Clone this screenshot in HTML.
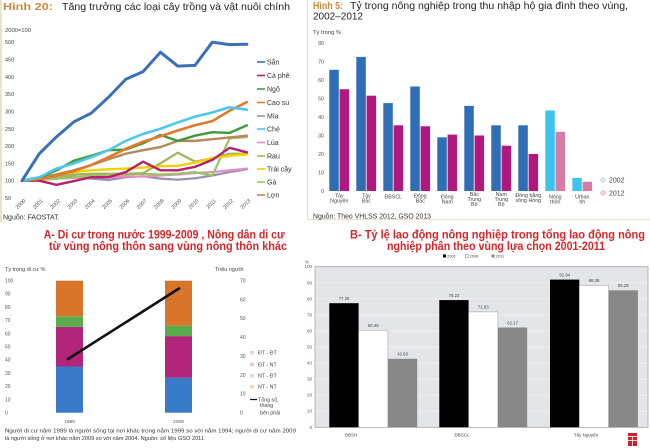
<!DOCTYPE html>
<html><head><meta charset="utf-8"><style>
html,body{margin:0;padding:0;background:#fff;}
svg{display:block;font-family:"Liberation Sans","Noto Sans CJK SC",sans-serif;}
</style></head><body>
<svg width="650" height="448" viewBox="0 0 650 448" xmlns="http://www.w3.org/2000/svg">
<rect width="650" height="448" fill="#fff"/>
<!-- borders -->
<line x1="1" y1="0" x2="1" y2="222" stroke="#ece2cc" stroke-width="2"/>
<line x1="307.5" y1="0" x2="307.5" y2="219.5" stroke="#ece2cc" stroke-width="1.2"/>
<line x1="307" y1="219.5" x2="650" y2="219.5" stroke="#ece2cc" stroke-width="1.2"/>

<!-- ===== Chart 1 ===== -->
<text x="3" y="10" font-size="10.5" font-weight="bold" fill="#c98a3c" textLength="50" lengthAdjust="spacingAndGlyphs">Hình 20:</text>
<text x="62" y="10" font-size="10.5" fill="#222" textLength="228" lengthAdjust="spacingAndGlyphs">Tăng trưởng các loại cây trồng và vật nuôi chính</text>
<text x="5" y="32" font-size="5.8" fill="#444">2000=100</text>
<g font-size="5.5" fill="#444">
<text x="5" y="44.2">500</text><text x="5" y="61.5">450</text><text x="5" y="78.8">400</text><text x="5" y="96.1">350</text><text x="5" y="113.4">300</text><text x="5" y="130.8">250</text><text x="5" y="148.1">200</text><text x="5" y="165.4">150</text><text x="5" y="182.7">100</text><text x="5" y="200">50</text>
</g>
<g font-size="5.3" fill="#555" text-anchor="end">
<text transform="translate(26,201) rotate(-45)">2000</text>
<text transform="translate(43.3,201) rotate(-45)">2001</text>
<text transform="translate(60.6,201) rotate(-45)">2002</text>
<text transform="translate(77.9,201) rotate(-45)">2003</text>
<text transform="translate(95.2,201) rotate(-45)">2004</text>
<text transform="translate(112.5,201) rotate(-45)">2005</text>
<text transform="translate(129.8,201) rotate(-45)">2006</text>
<text transform="translate(147.1,201) rotate(-45)">2007</text>
<text transform="translate(164.4,201) rotate(-45)">2008</text>
<text transform="translate(181.7,201) rotate(-45)">2009</text>
<text transform="translate(199,201) rotate(-45)">2010</text>
<text transform="translate(216.3,201) rotate(-45)">2011</text>
<text transform="translate(233.6,201) rotate(-45)">2012</text>
<text transform="translate(250.9,201) rotate(-45)">2013</text>
</g>
<g transform="translate(22,180.7) scale(17.3,-0.3463) translate(0,-100)" fill="none" stroke-linejoin="round" stroke-linecap="round">
<polyline vector-effect="non-scaling-stroke" stroke="#9b8fb0" stroke-width="2.2" points="0,100 1,103 2,108 3,112 4,106 5,102 6,110 7,113 8,106 9,103 10,107 11,115 12,125 13,133"/>
<polyline vector-effect="non-scaling-stroke" stroke="#e58cc4" stroke-width="2.2" points="0,100 1,103 2,106 3,108 4,110 5,110 6,112 7,112 8,115 9,118 10,122 11,125 12,130 13,135"/>
<polyline vector-effect="non-scaling-stroke" stroke="#98c463" stroke-width="2.2" points="0,100 1,102 2,106 3,110 4,115 5,117 6,118 7,120 8,118 9,120 10,125 11,115 12,222 13,226"/>
<polyline vector-effect="non-scaling-stroke" stroke="#a5b35a" stroke-width="2.2" points="0,100 1,105 2,112 3,118 4,120 5,120 6,120 7,122 8,150 9,181 10,155 11,165 12,178 13,178"/>
<polyline vector-effect="non-scaling-stroke" stroke="#f2d100" stroke-width="2.4" points="0,100 1,108 2,118 3,125 4,130 5,133 6,135 7,138 8,142 9,143 10,152 11,165 12,172 13,176"/>
<polyline vector-effect="non-scaling-stroke" stroke="#b5216e" stroke-width="2.4" points="0,100 1,100 2,88 3,99 4,110 5,110 6,125 7,155 8,130 9,130 10,140 11,160 12,195 13,182"/>
<polyline vector-effect="non-scaling-stroke" stroke="#b5895a" stroke-width="2.4" points="0,100 1,107 2,118 3,130 4,145 5,162 6,178 7,188 8,197 9,215 10,215 11,220 12,225 13,230"/>
<polyline vector-effect="non-scaling-stroke" stroke="#3e9b3c" stroke-width="2.4" points="0,100 1,108 2,130 3,158 4,172 5,188 6,190 7,208 8,232 9,215 10,230 11,240 12,238 13,260"/>
<polyline vector-effect="non-scaling-stroke" stroke="#e07a2c" stroke-width="2.6" points="0,100 1,105 2,115 3,128 4,145 5,168 6,192 7,213 8,228 9,245 10,260 11,272 12,302 13,327"/>
<polyline vector-effect="non-scaling-stroke" stroke="#4fc7ea" stroke-width="2.6" points="0,100 1,110 2,135 3,150 4,168 5,188 6,215 7,235 8,250 9,268 10,285 11,297 12,312 13,305"/>
<polyline vector-effect="non-scaling-stroke" stroke="#3b6fb6" stroke-width="3" points="0,100 1,178 2,227 3,270 4,295 5,341 6,393 7,415 8,471 9,431 10,433 11,500 12,493 13,494"/>
</g>
<g stroke-width="1.6">
<line x1="257" y1="62" x2="265" y2="62" stroke="#3b6fb6"/>
<line x1="257" y1="75.5" x2="265" y2="75.5" stroke="#b5216e"/>
<line x1="257" y1="89" x2="265" y2="89" stroke="#3e9b3c"/>
<line x1="257" y1="102.5" x2="265" y2="102.5" stroke="#e07a2c"/>
<line x1="257" y1="116" x2="265" y2="116" stroke="#9b8fb0"/>
<line x1="257" y1="129" x2="265" y2="129" stroke="#4fc7ea"/>
<line x1="257" y1="142.5" x2="265" y2="142.5" stroke="#e58cc4"/>
<line x1="257" y1="156" x2="265" y2="156" stroke="#a5b35a"/>
<line x1="257" y1="169" x2="265" y2="169" stroke="#f2d100"/>
<line x1="257" y1="182" x2="265" y2="182" stroke="#98c463"/>
<line x1="257" y1="195" x2="265" y2="195" stroke="#b5895a"/>
</g>
<g font-size="7" fill="#333">
<text x="267" y="64.5">Sắn</text><text x="267" y="78">Cà phê</text><text x="267" y="91.5">Ngô</text><text x="267" y="105">Cao su</text><text x="267" y="118.5">Mía</text><text x="267" y="131.5">Chè</text><text x="267" y="145">Lúa</text><text x="267" y="158.5">Rau</text><text x="267" y="171.5">Trái cây</text><text x="267" y="184.5">Gà</text><text x="267" y="197.5">Lợn</text>
</g>
<text x="3" y="219.5" font-size="7" fill="#333">Nguồn: FAOSTAT.</text>

<!-- ===== Chart 2 ===== -->
<text x="313" y="9" font-size="10" font-weight="bold" fill="#c98a3c" textLength="30" lengthAdjust="spacingAndGlyphs">Hình 5:</text>
<text x="350" y="9" font-size="10" fill="#222" textLength="278" lengthAdjust="spacingAndGlyphs">Tỷ trọng nông nghiệp trong thu nhập hộ gia đình theo vùng,</text>
<text x="313" y="19.5" font-size="10" fill="#222" textLength="50" lengthAdjust="spacingAndGlyphs">2002–2012</text>
<text x="313" y="34" font-size="5.8" fill="#444">Tỷ trọng %</text>
<g font-size="5.3" fill="#555" text-anchor="end">
<text x="324" y="193">0</text><text x="324" y="174.5">10</text><text x="324" y="156">20</text><text x="324" y="137.5">30</text><text x="324" y="119">40</text><text x="324" y="100.5">50</text><text x="324" y="82">60</text><text x="324" y="63.5">70</text><text x="324" y="45">80</text>
</g>
<g fill="#2f6db5">
<rect x="329.3" y="69.8" width="9.5" height="121.2"/>
<rect x="356.3" y="56.9" width="9.5" height="134.1"/>
<rect x="383.3" y="103.1" width="9.5" height="87.9"/>
<rect x="410.3" y="86.5" width="9.5" height="104.5"/>
<rect x="437.3" y="137.35" width="9.5" height="53.65"/>
<rect x="464.3" y="105.9" width="9.5" height="85.1"/>
<rect x="491.3" y="125.3" width="9.5" height="65.7"/>
<rect x="518.3" y="125.3" width="9.5" height="65.7"/>
</g>
<g fill="#b2187b">
<rect x="339.6" y="89.25" width="9.5" height="101.75"/>
<rect x="366.6" y="95.7" width="9.5" height="95.3"/>
<rect x="393.6" y="125.3" width="9.5" height="65.7"/>
<rect x="420.6" y="126.25" width="9.5" height="64.75"/>
<rect x="447.6" y="134.6" width="9.5" height="56.4"/>
<rect x="474.6" y="135.5" width="9.5" height="55.5"/>
<rect x="501.6" y="145.7" width="9.5" height="45.3"/>
<rect x="528.6" y="154" width="9.5" height="37"/>
</g>
<rect x="545.3" y="110.5" width="9.5" height="80.5" fill="#3ec3ee"/>
<rect x="555.6" y="131.8" width="9.5" height="59.2" fill="#d67aa6"/>
<rect x="572.3" y="178" width="9.5" height="13" fill="#3ec3ee"/>
<rect x="582.6" y="181.75" width="9.5" height="9.25" fill="#d67aa6"/>
<g font-size="5.3" fill="#444" text-anchor="middle">
<text x="339.3" y="197.5">Tây</text><text x="339.3" y="202.5">Nguyên</text>
<text x="366.3" y="197.5">Tây</text><text x="366.3" y="202.5">Bắc</text>
<text x="393.3" y="198.5">ĐBSCL</text>
<text x="420.3" y="197.5">Đông</text><text x="420.3" y="202.5">Bắc</text>
<text x="447.3" y="198.5">Đông</text><text x="447.3" y="203.5">Nam</text>
<text x="474.3" y="196">Bắc</text><text x="474.3" y="201">Trung</text><text x="474.3" y="206">Bộ</text>
<text x="501.3" y="196">Nam</text><text x="501.3" y="201">Trung</text><text x="501.3" y="206">Bộ</text>
<text x="528.3" y="197">Đồng bằng</text><text x="528.3" y="202">sông Hồng</text>
<text x="555.3" y="198.5">Nông</text><text x="555.3" y="203.5">thôn</text>
<text x="582.3" y="198.5">Urban</text><text x="582.3" y="203.5">hh</text>
</g>
<circle cx="603" cy="180" r="2.2" fill="#d8eef8" stroke="#aacbe0" stroke-width="0.6"/>
<circle cx="603" cy="193" r="2.2" fill="#f3d6e6" stroke="#c890b0" stroke-width="0.6"/>
<g font-size="7" fill="#444"><text x="609" y="182.5">2002</text><text x="609" y="195.5">2012</text></g>
<text x="313" y="218.5" font-size="7" fill="#333" textLength="118" lengthAdjust="spacingAndGlyphs">Nguồn: Theo VHLSS 2012, GSO 2013</text>

<!-- ===== Chart 3 ===== -->
<text x="43.7" y="238.5" font-size="12" font-weight="bold" fill="#d7262b" textLength="241" lengthAdjust="spacingAndGlyphs">A- Di cư trong nước 1999-2009 , Nông dân di cư</text>
<text x="49" y="250" font-size="12" font-weight="bold" fill="#d7262b" textLength="238" lengthAdjust="spacingAndGlyphs">từ vùng nông thôn sang vùng nông thôn khác</text>
<text x="5" y="271" font-size="5.5" fill="#444">Tỷ trọng di cư %</text>
<text x="215" y="271" font-size="5.5" fill="#444">Triệu người</text>
<g font-size="5" fill="#555">
<text x="5" y="414.5">0</text><text x="5" y="401.3">10</text><text x="5" y="388.1">20</text><text x="5" y="374.9">30</text><text x="5" y="361.7">40</text><text x="5" y="348.5">50</text><text x="5" y="335.3">60</text><text x="5" y="322.1">70</text><text x="5" y="308.9">80</text><text x="5" y="295.7">90</text><text x="5" y="282.5">100</text>
<text x="240" y="414.5">0</text><text x="240" y="395.6">10</text><text x="240" y="376.8">20</text><text x="240" y="357.9">30</text><text x="240" y="339.1">40</text><text x="240" y="320.2">50</text><text x="240" y="301.3">60</text><text x="240" y="282.5">70</text>
</g>
<rect x="56" y="366.5" width="27" height="46.2" fill="#3a7bc9"/>
<rect x="56" y="326.9" width="27" height="39.6" fill="#b1257b"/>
<rect x="56" y="316.3" width="27" height="10.6" fill="#5aab4b"/>
<rect x="56" y="280.7" width="27" height="35.6" fill="#d9742b"/>
<rect x="165" y="377.7" width="27" height="35" fill="#3a7bc9"/>
<rect x="165" y="336.1" width="27" height="41.6" fill="#b1257b"/>
<rect x="165" y="325.6" width="27" height="10.5" fill="#5aab4b"/>
<rect x="165" y="280.7" width="27" height="44.9" fill="#d9742b"/>
<line x1="68" y1="359" x2="179" y2="288.5" stroke="#111" stroke-width="2.6" stroke-linecap="round"/>
<g font-size="4.8" fill="#555" text-anchor="middle"><text x="69.5" y="423">1999</text><text x="178.5" y="423">2009</text></g>
<circle cx="252" cy="352.7" r="1.6" fill="#cfe0f2" stroke="#a9c2dc" stroke-width="0.5"/>
<circle cx="252" cy="364.5" r="1.6" fill="#efcfe0" stroke="#cfa0bd" stroke-width="0.5"/>
<circle cx="252" cy="375.8" r="1.6" fill="#d6ecd0" stroke="#aecfa6" stroke-width="0.5"/>
<circle cx="252" cy="386.7" r="1.6" fill="#f5dccb" stroke="#dcb8a0" stroke-width="0.5"/>
<line x1="250" y1="399.5" x2="257" y2="399.5" stroke="#111" stroke-width="1.2"/>
<g font-size="5.3" fill="#444">
<text x="258" y="354.5">ĐT - ĐT</text><text x="258" y="366.3">ĐT - NT</text><text x="258" y="377.6">NT - ĐT</text><text x="258" y="388.5">NT - NT</text>
<text x="258" y="401.5">Tổng số,</text><text x="260" y="407">thang</text><text x="260" y="414.5">bên phải</text>
</g>
<text x="5" y="432.5" font-size="5.3" fill="#333" textLength="291" lengthAdjust="spacingAndGlyphs">Người di cư năm 1999 là người sống tại nơi khác trong năm 1999 so với năm 1994; người di cư năm 2009</text>
<text x="5" y="440" font-size="5.3" fill="#333" textLength="199" lengthAdjust="spacingAndGlyphs">là người sống ở nơi khác năm 2009 so với năm 2004. Nguồn: số liệu GSO 2011</text>

<!-- ===== Chart 4 ===== -->
<text x="350" y="238.5" font-size="12" font-weight="bold" fill="#d7262b" textLength="295" lengthAdjust="spacingAndGlyphs">B- Tỷ lệ lao động nông nghiệp trong tổng lao động  nông</text>
<text x="387" y="250" font-size="12" font-weight="bold" fill="#d7262b" textLength="218" lengthAdjust="spacingAndGlyphs">nghiệp phân theo vùng lựa chọn 2001-2011</text>
<rect x="443" y="254.5" width="3" height="3" fill="#000"/>
<rect x="465.5" y="254.5" width="3" height="3" fill="#fff" stroke="#555" stroke-width="0.4"/>
<rect x="491.5" y="254.5" width="3" height="3" fill="#888"/>
<g font-size="4" fill="#444"><text x="447" y="257.6">2001</text><text x="469.5" y="257.6">2006</text><text x="495.5" y="257.6">2011</text></g>
<text x="305" y="263.5" font-size="4.5" fill="#555">%</text>
<rect x="315" y="266.7" width="333" height="160.6" fill="#e3e5e9" stroke="#a5a5a5" stroke-width="0.8"/>
<g stroke="#f3f4f6" stroke-width="0.7">
<line x1="315" y1="282.8" x2="648" y2="282.8"/><line x1="315" y1="298.8" x2="648" y2="298.8"/><line x1="315" y1="314.9" x2="648" y2="314.9"/><line x1="315" y1="330.9" x2="648" y2="330.9"/><line x1="315" y1="347" x2="648" y2="347"/><line x1="315" y1="363.1" x2="648" y2="363.1"/><line x1="315" y1="379.1" x2="648" y2="379.1"/><line x1="315" y1="395.2" x2="648" y2="395.2"/><line x1="315" y1="411.2" x2="648" y2="411.2"/>
</g>
<g font-size="4.5" fill="#555" text-anchor="end">
<text x="312" y="428.8">0</text><text x="312" y="412.7">10</text><text x="312" y="396.7">20</text><text x="312" y="380.6">30</text><text x="312" y="364.6">40</text><text x="312" y="348.5">50</text><text x="312" y="332.4">60</text><text x="312" y="316.4">70</text><text x="312" y="300.3">80</text><text x="312" y="284.3">90</text><text x="312" y="268.2">100</text>
</g>
<rect x="329.3" y="303.2" width="29.3" height="124.1" fill="#000"/>
<rect x="358.6" y="330.2" width="29.3" height="97.1" fill="#fff" stroke="#999" stroke-width="0.5"/>
<rect x="387.9" y="358.8" width="29.3" height="68.5" fill="#878787"/>
<rect x="439.3" y="300.1" width="29.3" height="127.2" fill="#000"/>
<rect x="468.6" y="311.9" width="29.3" height="115.4" fill="#fff" stroke="#999" stroke-width="0.5"/>
<rect x="497.9" y="327.5" width="29.3" height="99.8" fill="#878787"/>
<rect x="550" y="279.6" width="29.3" height="147.7" fill="#000"/>
<rect x="579.3" y="285.4" width="29.3" height="141.9" fill="#fff" stroke="#999" stroke-width="0.5"/>
<rect x="608.6" y="290.3" width="29.3" height="137" fill="#878787"/>
<g font-size="4.3" fill="#444" text-anchor="middle">
<text x="344" y="300">77.26</text><text x="373.3" y="327">60.48</text><text x="402.6" y="355.6">42.63</text>
<text x="454" y="296.9">79.22</text><text x="483.3" y="308.7">71.83</text><text x="512.6" y="324.3">62.17</text>
<text x="564.7" y="276.4">91.94</text><text x="594" y="282.2">88.38</text><text x="623.3" y="287.1">85.28</text>
</g>
<g font-size="4.5" fill="#444" text-anchor="middle">
<text x="351" y="436.5">ĐBSH</text><text x="462" y="436.5">ĐBSCL</text><text x="586" y="436.5">Tây Nguyên</text>
</g>
<rect x="628" y="433" width="9" height="13" fill="#c8242b"/>
<rect x="628" y="436" width="9" height="0.8" fill="#fff"/>
<rect x="628" y="440" width="9" height="0.8" fill="#fff"/>
<rect x="632.1" y="436.8" width="0.8" height="9" fill="#fff"/>
</svg>
</body></html>
